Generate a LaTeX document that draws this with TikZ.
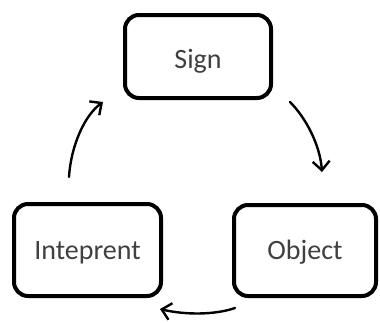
\documentclass[tikz,border=0pt]{standalone}
\usepackage{fontspec}
\setmainfont{Carlito}
\usetikzlibrary{arrows.meta}
\definecolor{labelgray}{HTML}{404040}
\tikzset{
  stage/.style={draw=black, line width=4pt, rounded corners=14pt, fill=white,
    font=\fontsize{28}{32}\selectfont, text=labelgray, inner sep=0pt,
    text height=18pt, text depth=0pt},
  flow/.style={line width=2.4pt, line cap=round,
    -{Straight Barb[length=9pt,width=17pt,line width=2.4pt]}}
}
\begin{document}
\begin{tikzpicture}[x=1pt,y=-1pt]
  \useasboundingbox (0,0) rectangle (380,322);
  % the three stages of the cycle
  \node[stage, minimum width=146pt, minimum height=83pt] (sign) at (198,56.5)
    {\raisebox{-2.5pt}[\height][\depth]{Sign}};
  \node[stage, minimum width=142pt, minimum height=91pt] (object) at (305,250.5) {Object};
  \node[stage, minimum width=147pt, minimum height=92pt] (interp) at (87.5,250) {Inteprent};
  % free ends of the curved arrows between the stages
  \coordinate (a1) at (290,102);
  \coordinate (a2) at (322,172);
  \coordinate (b1) at (235,308);
  \coordinate (b2) at (160,309);
  \coordinate (c1) at (69,177);
  \coordinate (c2) at (103,102);
  \draw[flow] (a1) .. controls (306,118) and (320,145) .. (a2);
  \draw[flow] (b1) .. controls (215,315) and (185,315) .. (b2);
  \draw[flow] (c1) .. controls (71,145) and (85,115) .. (c2);
\end{tikzpicture}
\end{document}
